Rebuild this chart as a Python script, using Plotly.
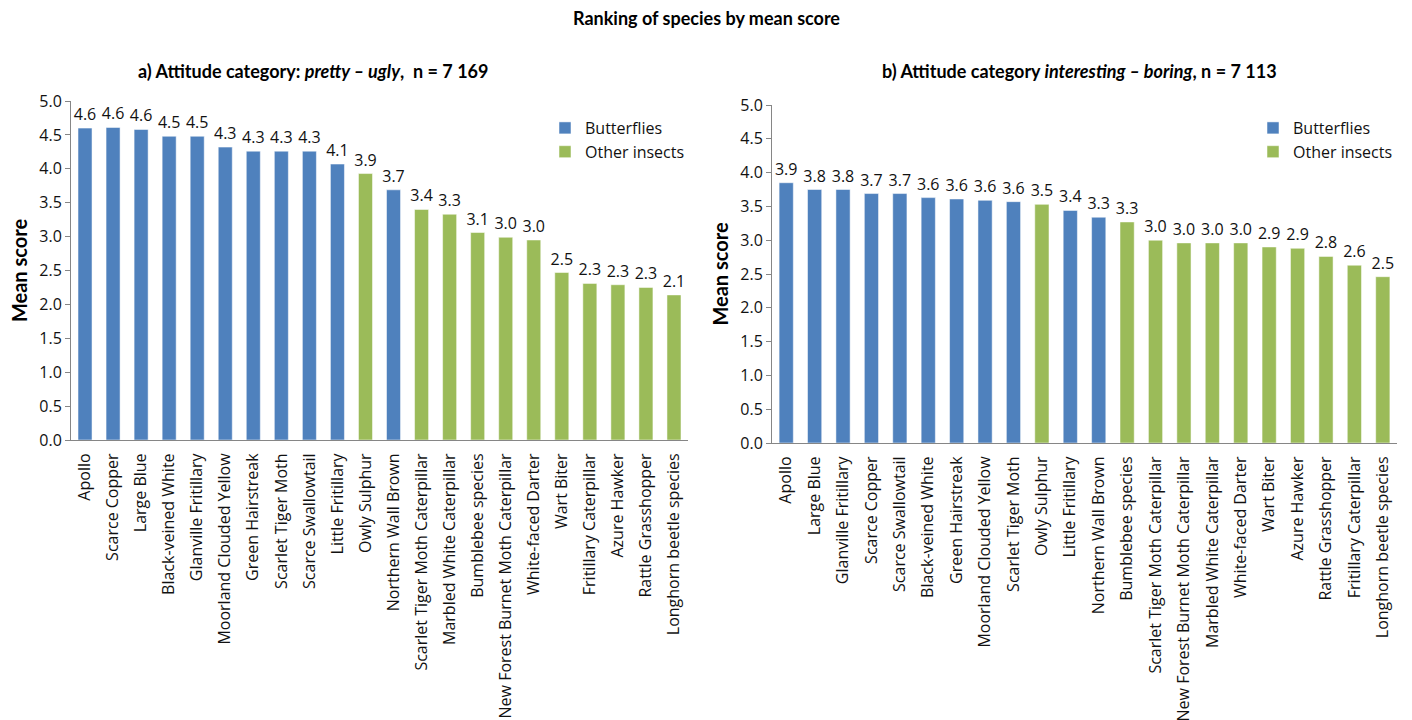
import plotly.graph_objects as go

# ---------- data ----------
cats_a = ["Apollo", "Scarce Copper", "Large Blue", "Black-veined White", "Glanville Fritillary",
          "Moorland Clouded Yellow", "Green Hairstreak", "Scarlet Tiger Moth", "Scarce Swallowtail",
          "Little Fritillary", "Owly Sulphur", "Northern Wall Brown", "Scarlet Tiger Moth Caterpillar",
          "Marbled White Caterpillar", "Bumblebee species", "New Forest Burnet Moth Caterpillar",
          "White-faced Darter", "Wart Biter", "Fritillary Caterpillar", "Azure Hawker",
          "Rattle Grasshopper", "Longhorn beetle species"]
vals_a = [4.60, 4.61, 4.58, 4.48, 4.48, 4.32, 4.26, 4.26, 4.26, 4.07, 3.93, 3.69, 3.40,
          3.33, 3.06, 2.99, 2.95, 2.47, 2.31, 2.29, 2.25, 2.14]
group_a = ["B", "B", "B", "B", "B", "B", "B", "B", "B", "B", "O", "B", "O",
           "O", "O", "O", "O", "O", "O", "O", "O", "O"]

cats_b = ["Apollo", "Large Blue", "Glanville Fritillary", "Scarce Copper", "Scarce Swallowtail",
          "Black-veined White", "Green Hairstreak", "Moorland Clouded Yellow", "Scarlet Tiger Moth",
          "Owly Sulphur", "Little Fritillary", "Northern Wall Brown", "Bumblebee species",
          "Scarlet Tiger Moth Caterpillar", "New Forest Burnet Moth Caterpillar",
          "Marbled White Caterpillar", "White-faced Darter", "Wart Biter", "Azure Hawker",
          "Rattle Grasshopper", "Fritillary Caterpillar", "Longhorn beetle species"]
vals_b = [3.85, 3.75, 3.75, 3.69, 3.69, 3.63, 3.61, 3.59, 3.57, 3.53, 3.44, 3.34, 3.27,
          3.00, 2.96, 2.96, 2.96, 2.90, 2.88, 2.76, 2.63, 2.46]
group_b = ["B", "B", "B", "B", "B", "B", "B", "B", "B", "O", "B", "B", "O",
           "O", "O", "O", "O", "O", "O", "O", "O", "O"]

group_names = {"B": "Butterflies", "O": "Other insects"}
colors = {"B": "#4F81BD", "O": "#9BBB59"}

FONT = "Open Sans"
TFONT = "Lato"

fig = go.Figure()

def add_panel(cats, vals, groups, xa, ya, legend):
    for g in ["B", "O"]:
        xs = [c for c, gg in zip(cats, groups) if gg == g]
        ys = [v for v, gg in zip(vals, groups) if gg == g]
        fig.add_trace(go.Bar(
            x=xs, y=ys, name=group_names[g],
            marker=dict(color=colors[g], line=dict(width=1, color="rgba(255,255,255,0.5)")),
            texttemplate="%{y:.1f}", textposition="outside", cliponaxis=False,
            constraintext="none",
            textfont=dict(family=FONT, size=16, color="#111"),
            xaxis=xa, yaxis=ya, legend=legend, width=0.5,
        ))

add_panel(cats_a, vals_a, group_a, "x", "y", "legend")
add_panel(cats_b, vals_b, group_b, "x2", "y2", "legend2")

W, H = 1412, 720
def dx(p): return p / W
def dy(p): return 1 - p / H

xcommon = dict(type="category", showline=True, linecolor="#868686", linewidth=1,
               ticks="", tickangle=-90, tickfont=dict(family=FONT, size=16, color="#111"),
               ticklabelstandoff=6,
               showgrid=False, zeroline=False, automargin=False)
ycommon = dict(range=[0, 5], dtick=0.5, tickformat=".1f", showline=True, linecolor="#868686",
               linewidth=1, ticks="outside", ticklen=5, tickcolor="#868686",
               tickfont=dict(family=FONT, size=16, color="#111"), showgrid=False, zeroline=False,
               automargin=False,
               title=dict(text="<b>Mean score</b>", font=dict(family=TFONT, size=20, color="#000"), standoff=6))

fig.update_layout(
    width=W, height=H, margin=dict(l=0, r=0, t=0, b=0, autoexpand=False),
    paper_bgcolor="white", plot_bgcolor="white",
    barmode="overlay", showlegend=True,
    xaxis=dict(xcommon, domain=[dx(71), dx(688)], anchor="y",
               categoryorder="array", categoryarray=cats_a),
    yaxis=dict(ycommon, domain=[dy(440), dy(101)], anchor="x"),
    xaxis2=dict(xcommon, domain=[dx(772), dx(1397)], anchor="y2",
                categoryorder="array", categoryarray=cats_b),
    yaxis2=dict(ycommon, domain=[dy(443), dy(105)], anchor="x2"),
    legend=dict(x=dx(545), y=dy(111), xanchor="left", yanchor="top", bgcolor="rgba(0,0,0,0)",
                font=dict(family=FONT, size=16, color="#111"), tracegroupgap=0, itemwidth=30),
    legend2=dict(x=dx(1253), y=dy(111), xanchor="left", yanchor="top", bgcolor="rgba(0,0,0,0)",
                 font=dict(family=FONT, size=16, color="#111"), tracegroupgap=0, itemwidth=30),
    annotations=[
        dict(text="<b>Ranking of species by mean score</b>", x=0.5, y=dy(18), xref="paper", yref="paper",
             showarrow=False, font=dict(family=TFONT, size=18, color="#000"),
             xanchor="center", yanchor="middle"),
        dict(text="<b>a) Attitude category: <i>pretty – ugly</i>,  n = 7 169</b>", x=dx(313), y=dy(71),
             xref="paper", yref="paper", showarrow=False, font=dict(family=TFONT, size=18, color="#000"),
             xanchor="center", yanchor="middle"),
        dict(text="<b>b) Attitude category <i>interesting – boring</i>, n = 7 113</b>", x=dx(1079), y=dy(71),
             xref="paper", yref="paper", showarrow=False, font=dict(family=TFONT, size=18, color="#000"),
             xanchor="center", yanchor="middle"),
    ],
)

fig.write_html("out.html")
